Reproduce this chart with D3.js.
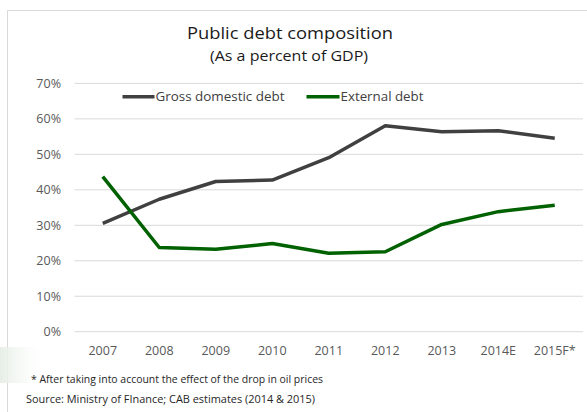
<!DOCTYPE html>
<html>
<head>
<meta charset="utf-8">
<script src="https://cdn.jsdelivr.net/npm/d3@7"></script>
<style>
  html, body { margin: 0; padding: 0; background: #ffffff; }
  svg { display: block; }
  text { font-family: "Open Sans", "Noto Sans", sans-serif; }
</style>
</head>
<body>
<svg id="chart" width="587" height="412"></svg>
<script>
// Public debt composition, as a percent of GDP
const years = ["2007", "2008", "2009", "2010", "2011", "2012", "2013", "2014E", "2015F*"];
const grossDomestic = [30.4, 37.2, 42.2, 42.6, 48.9, 57.9, 56.2, 56.5, 54.4];
const externalDebt = [43.6, 23.6, 23.1, 24.7, 22.0, 22.4, 30.1, 33.7, 35.5];
const yTicks = [0, 10, 20, 30, 40, 50, 60, 70];
const seriesNames = ["Gross domestic debt", "External debt"];

const series = [
  { name: seriesNames[0], values: grossDomestic, color: "#404040" },
  { name: seriesNames[1], values: externalDebt, color: "#006100" }
];

const svg = d3.select("#chart");

// frame around the chart area
svg.append("path")
  .attr("d", "M7.5,412 V10.5 H587")
  .attr("fill", "none")
  .attr("stroke", "#d9d9d9")
  .attr("stroke-width", 1);

// faint shading at the lower left edge
const grad = svg.append("defs").append("linearGradient")
  .attr("id", "edgeShade").attr("x1", 0).attr("x2", 1);
grad.append("stop").attr("offset", 0).attr("stop-color", "#e6eee6");
grad.append("stop").attr("offset", 1).attr("stop-color", "#ffffff").attr("stop-opacity", 0);
svg.append("rect")
  .attr("x", 0).attr("y", 347).attr("width", 48).attr("height", 36)
  .attr("fill", "url(#edgeShade)");

const x = d3.scaleBand().domain(years).range([74.5, 583]).paddingInner(0).paddingOuter(0);
const y = d3.scaleLinear().domain([0, 70]).range([331.2, 82.9]);

// y axis with gridlines
const yAxis = svg.append("g")
  .attr("transform", "translate(74.5,0)")
  .call(d3.axisLeft(y)
    .tickValues(yTicks)
    .tickSize(-(583 - 74.5))
    .tickPadding(13.5)
    .tickFormat(d => d + "%"));
yAxis.select(".domain").remove();
yAxis.selectAll(".tick line").attr("stroke", "#d9d9d9").attr("stroke-width", 1);
yAxis.selectAll(".tick text")
  .attr("fill", "#595959")
  .style("font-size", "12.5px")
  .attr("dy", "0.36em");

// x axis labels
const xAxis = svg.append("g")
  .attr("transform", "translate(0,331.2)")
  .call(d3.axisBottom(x).tickSize(0).tickPadding(0));
xAxis.select(".domain").remove();
xAxis.selectAll(".tick text")
  .attr("y", 24.3)
  .attr("dy", 0)
  .attr("fill", "#595959")
  .style("font-size", "12.5px");

// lines
const line = d3.line()
  .x((d, i) => x(years[i]) + x.bandwidth() / 2)
  .y(d => y(d));

svg.append("g").selectAll("path")
  .data(series)
  .join("path")
  .attr("d", d => line(d.values))
  .attr("fill", "none")
  .attr("stroke", d => d.color)
  .attr("stroke-width", 3.5)
  .attr("stroke-linejoin", "round")
  .attr("stroke-linecap", "butt");

// title
svg.append("text")
  .attr("x", 290).attr("y", 38.5)
  .attr("text-anchor", "middle")
  .attr("fill", "#1a1a1a")
  .attr("textLength", 206).attr("lengthAdjust", "spacingAndGlyphs")
  .style("font-size", "17px")
  .text("Public debt composition");
svg.append("text")
  .attr("x", 289).attr("y", 60.5)
  .attr("text-anchor", "middle")
  .attr("fill", "#1a1a1a")
  .attr("textLength", 158).attr("lengthAdjust", "spacingAndGlyphs")
  .style("font-size", "14px")
  .text("(As a percent of GDP)");

// legend
const legendPos = [
  { lx: 122.5, tx: 155.5, tw: 129 },
  { lx: 306.5, tx: 340.5, tw: 83 }
];
const legend = svg.append("g").selectAll("g")
  .data(series)
  .join("g");
legend.append("line")
  .attr("x1", (d, i) => legendPos[i].lx)
  .attr("x2", (d, i) => legendPos[i].tx - 1)
  .attr("y1", 96.7).attr("y2", 96.7)
  .attr("stroke", d => d.color)
  .attr("stroke-width", 3.5);
legend.append("text")
  .attr("x", (d, i) => legendPos[i].tx)
  .attr("y", 101)
  .attr("fill", "#404040")
  .attr("textLength", (d, i) => legendPos[i].tw)
  .attr("lengthAdjust", "spacingAndGlyphs")
  .style("font-size", "13px")
  .text(d => d.name);

// notes
svg.append("text")
  .attr("x", 31).attr("y", 383)
  .attr("fill", "#262626")
  .attr("textLength", 292).attr("lengthAdjust", "spacingAndGlyphs")
  .style("font-size", "11.5px")
  .text("* After taking into account the effect of the drop in oil prices");
svg.append("text")
  .attr("x", 26).attr("y", 403)
  .attr("fill", "#262626")
  .attr("textLength", 289).attr("lengthAdjust", "spacingAndGlyphs")
  .style("font-size", "11.5px")
  .text("Source: Ministry of FInance; CAB estimates (2014 & 2015)");
</script>
</body>
</html>
